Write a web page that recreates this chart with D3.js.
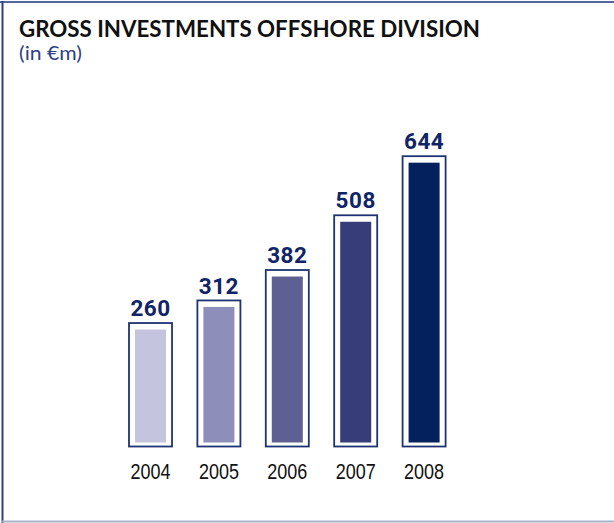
<!DOCTYPE html>
<html>
<head>
<meta charset="utf-8">
<script src="https://cdn.jsdelivr.net/npm/d3@7"></script>
<style>
  html, body { margin: 0; padding: 0; background: #ffffff; }
  svg { display: block; }
</style>
</head>
<body>
<svg id="chart" width="614" height="523"></svg>
<script>
// Gross investments of the offshore division, in € million
const years = ["2004", "2005", "2006", "2007", "2008"];
const investments = [260, 312, 382, 508, 644];
const barColors = ["#c4c4de", "#8e8eba", "#5e6094", "#363d78", "#05215d"];
const titleText = "GROSS INVESTMENTS OFFSHORE DIVISION";
const subtitleText = "(in €m)";

const svg = d3.select("#chart");

// Panel frame: strong left edge, thin top rule, light bottom rule
svg.append("line").attr("x1", 0).attr("x2", 614).attr("y1", 2).attr("y2", 2)
  .attr("stroke", "#5566a0").attr("stroke-width", 2);
svg.append("line").attr("x1", 2.5).attr("x2", 2.5).attr("y1", 1).attr("y2", 523)
  .attr("stroke", "#2b3f85").attr("stroke-width", 2);
svg.append("line").attr("x1", 2).attr("x2", 614).attr("y1", 521.5).attr("y2", 521.5)
  .attr("stroke", "#aab2c8").attr("stroke-width", 2);

// Heading
const title = svg.append("text")
  .attr("x", 19).attr("y", 36.7)
  .attr("font-family", "Lato, 'Open Sans', sans-serif")
  .attr("font-weight", 700)
  .attr("font-size", 23.5)
  .attr("fill", "#111111")
  .text(titleText);
if (Math.abs(title.node().getComputedTextLength() - 461) > 2) {
  title.attr("textLength", 461).attr("lengthAdjust", "spacingAndGlyphs");
}

const subtitle = svg.append("text")
  .attr("x", 19).attr("y", 59.5)
  .attr("font-family", "Lato, 'Open Sans', sans-serif")
  .attr("font-size", 18.5)
  .attr("fill", "#2e3f85")
  .text(subtitleText);
if (Math.abs(subtitle.node().getComputedTextLength() - 63) > 2) {
  subtitle.attr("textLength", 63).attr("lengthAdjust", "spacingAndGlyphs");
}

// Scales
const x = d3.scaleBand()
  .domain(years)
  .range([129, 445.6])
  .paddingInner(0.371)
  .paddingOuter(0);

const baseY = 442.5;
const y = d3.scaleLinear()
  .domain([0, 644])
  .range([baseY, baseY - 644 * 0.4345]);

const data = years.map((yr, i) => ({ year: yr, value: investments[i], color: barColors[i] }));

const inset = 6;     // gap between outline box and filled bar
const topGap = 6.5;  // outline box above bar top
const bottomGap = 4; // outline box below baseline

const g = svg.append("g");

const bars = g.selectAll("g.bar").data(data).join("g").attr("class", "bar");

// outline boxes
bars.append("rect")
  .attr("x", d => x(d.year))
  .attr("y", d => y(d.value) - topGap)
  .attr("width", x.bandwidth())
  .attr("height", d => (baseY + bottomGap) - (y(d.value) - topGap))
  .attr("fill", "#ffffff")
  .attr("stroke", "#1f3374")
  .attr("stroke-width", 1.8);

// filled bars
bars.append("rect")
  .attr("x", d => x(d.year) + inset)
  .attr("y", d => y(d.value))
  .attr("width", x.bandwidth() - 2 * inset)
  .attr("height", d => baseY - y(d.value))
  .attr("fill", d => d.color);

// value labels
bars.append("text")
  .attr("x", d => x(d.year) + x.bandwidth() / 2)
  .attr("y", d => y(d.value) - topGap - 6.8)
  .attr("text-anchor", "middle")
  .attr("font-family", "Roboto, 'DejaVu Sans', sans-serif")
  .attr("font-weight", 700)
  .attr("font-size", 22.5)
  .attr("letter-spacing", 0.5)
  .attr("fill", "#102466")
  .text(d => d.value);

// category axis labels
const axis = d3.axisBottom(x).tickSize(0).tickPadding(0);
const ax = svg.append("g").attr("transform", "translate(0,463)").call(axis);
ax.select(".domain").remove();
ax.selectAll("text")
  .attr("y", 0)
  .attr("dy", "15.6")
  .attr("font-family", "'Liberation Sans Narrow', 'Arial Narrow', 'Liberation Sans', sans-serif")
  .attr("font-size", 22)
  .attr("fill", "#111111")
  .each(function () {
    const t = d3.select(this);
    if (Math.abs(this.getComputedTextLength() - 40) > 1.5) {
      t.attr("textLength", 40).attr("lengthAdjust", "spacingAndGlyphs");
    }
  });
</script>
</body>
</html>
